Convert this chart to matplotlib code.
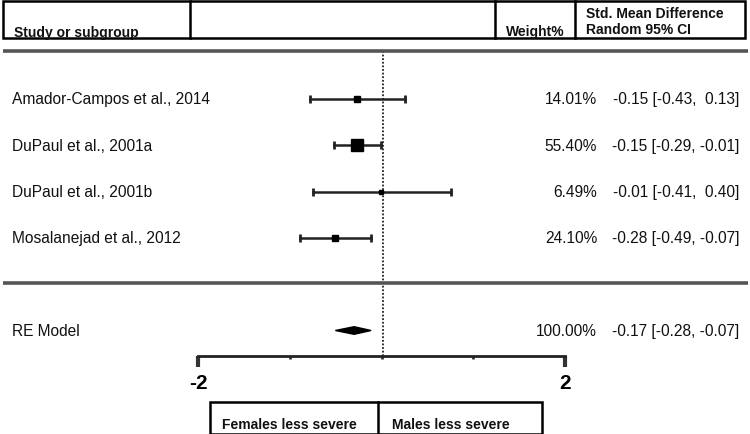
import matplotlib
matplotlib.use("Agg")
import matplotlib.pyplot as plt
from matplotlib.patches import Rectangle, Polygon
from matplotlib.lines import Line2D
from matplotlib.transforms import blended_transform_factory

plt.rcParams['font.family'] = ['Liberation Sans', 'DejaVu Sans']

# data
studies = ["Amador-Campos et al., 2014", "DuPaul et al., 2001a",
           "DuPaul et al., 2001b", "Mosalanejad et al., 2012"]
weights = [14.01, 55.40, 6.49, 24.10]
smd = [-0.15, -0.15, -0.01, -0.28]
ci_lo = [-0.43, -0.29, -0.41, -0.49]
ci_hi = [0.13, -0.01, 0.40, -0.07]
ci_text = ["-0.15 [-0.43,  0.13]", "-0.15 [-0.29, -0.01]",
           "-0.01 [-0.41,  0.40]", "-0.28 [-0.49, -0.07]"]
re_label = "RE Model"
re_weight = 100.00
re_est, re_lo, re_hi = -0.17, -0.28, -0.07
re_text = "-0.17 [-0.28, -0.07]"
scale_ticks = [-2, -1, 0, 1, 2]
scale_labels = ["-2", "", "", "", "2"]

W, H = 750, 435
fig = plt.figure(figsize=(W / 100, H / 100), dpi=100)

def fx(p):  # pixel x -> figure fraction
    return p / W

def fy(p):  # pixel y (from top) -> figure fraction
    return 1 - p / H

# main axes: x in SMD units, y in rows
x0, ppu = 383, 170.0
row0, rowh = 100, 46.3
ax = fig.add_axes([0, 0, 1, 1])
ax.set_xlim(-x0 / ppu, (W - x0) / ppu)
ax.set_ylim(1 + (H - row0) / rowh, 1 - row0 / rowh)
ax.axis('off')
blend = blended_transform_factory(fig.transFigure, ax.transData)

def prow(p):  # pixel y -> row
    return 1 + (p - row0) / rowh

rows = [1, 2, 3, 4]
re_row = 6
fs = 11.2
tcol = '#111'

# zero line (dotted)
ax.plot([0, 0], [prow(52), prow(357)], color='#222', lw=1.3,
        linestyle=(0, (1, 1)), zorder=1)

# separators
for yp in [52, 284]:
    ax.plot([(3 - x0) / ppu, (748 - x0) / ppu], [prow(yp), prow(yp)],
            color='#555', lw=2.6, solid_capstyle='butt', zorder=2)

# study rows
for i, r in enumerate(rows):
    ax.plot([ci_lo[i], ci_hi[i]], [r, r], color='#222', lw=1.8, zorder=3)
    ax.plot([ci_lo[i], ci_hi[i]], [r, r], ls='none', marker='|',
            ms=6, mew=2, color='#222', zorder=3)
    size_px = 3 + 9 * weights[i] / max(weights)
    ax.plot(smd[i], r, marker='s', ms=size_px * 0.72, color='black',
            mec='black', zorder=4)
    ax.text(fx(12), r, studies[i], transform=blend, ha='left',
            va='center', fontsize=fs, color=tcol)
    ax.text(fx(597), r, "%.2f%%" % weights[i], transform=blend,
            ha='right', va='center', fontsize=fs, color=tcol)
    ax.text(fx(739), r, ci_text[i], transform=blend, ha='right',
            va='center', fontsize=fs, color=tcol)

# summary diamond
dh = 3.8 / rowh
ax.add_patch(Polygon([[re_lo, re_row], [re_est, re_row - dh],
                      [re_hi, re_row], [re_est, re_row + dh]],
                     closed=True, color='black', zorder=4))
ax.text(fx(12), re_row, re_label, transform=blend, ha='left', va='center',
        fontsize=fs, color=tcol)
ax.text(fx(597), re_row, "%.2f%%" % re_weight, transform=blend,
        ha='right', va='center', fontsize=fs, color=tcol)
ax.text(fx(739), re_row, re_text, transform=blend, ha='right',
        va='center', fontsize=fs, color=tcol)

# header box
fig.add_artist(Rectangle((fx(3), fy(39)), fx(745) - fx(3), fy(2) - fy(39),
                         transform=fig.transFigure, fill=False,
                         ec='black', lw=1.8))
for xp in [190, 495, 575]:
    fig.add_artist(Line2D([fx(xp), fx(xp)], [fy(39), fy(2)],
                          transform=fig.transFigure, color='black', lw=1.8))
hdr = dict(fontsize=10, fontweight='bold', color=tcol, va='baseline')
fig.text(fx(14), fy(37), "Study or subgroup", ha='left', **hdr)
fig.text(fx(565), fy(36), "Weight%", ha='right', **hdr)
fig.text(fx(586), fy(18), "Std. Mean Difference", ha='left', **hdr)
fig.text(fx(586), fy(34), "Random 95% CI", ha='left', **hdr)

# scale axis
ax2 = fig.add_axes([fx(198), fy(357), fx(565) - fx(198), 0.0005])
ax2.set_xlim(-2, 2)
ax2.patch.set_visible(False)
for s in ['top', 'left', 'right']:
    ax2.spines[s].set_visible(False)
ax2.spines['bottom'].set_linewidth(2)
ax2.spines['bottom'].set_color('#222')
ax2.set_yticks([])
ax2.set_xticks([t for t, l in zip(scale_ticks, scale_labels) if l])
ax2.set_xticklabels([l for l in scale_labels if l], fontsize=15,
                    fontweight='bold')
ax2.set_xticks([t for t, l in zip(scale_ticks, scale_labels) if not l],
               minor=True)
ax2.tick_params(axis='x', which='major', length=8, width=3, color='#333',
                pad=4)
ax2.tick_params(axis='x', which='minor', length=2.5, width=2, color='#333')

# bottom label box
fig.add_artist(Rectangle((fx(210), fy(435)), fx(542) - fx(210),
                         fy(403) - fy(435), transform=fig.transFigure,
                         fill=False, ec='black', lw=1.8))
fig.add_artist(Line2D([fx(378), fx(378)], [fy(435), fy(403)],
                      transform=fig.transFigure, color='black', lw=1.8))
fig.text(fx(222), fy(429), "Females less severe", ha='left', **hdr)
fig.text(fx(392), fy(429), "Males less severe", ha='left', **hdr)

fig.savefig("out.png", dpi=100)
